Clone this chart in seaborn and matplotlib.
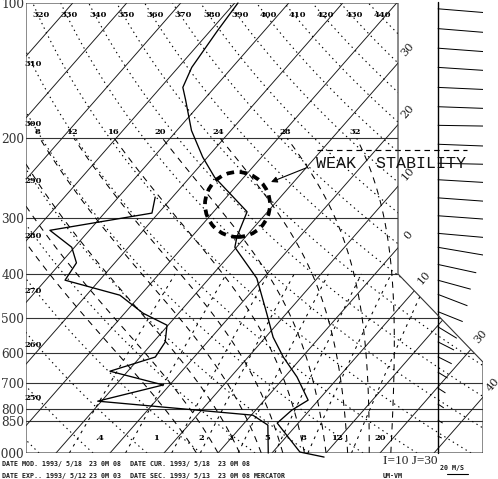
import numpy as np
import pandas as pd
import matplotlib
matplotlib.use("Agg")
import matplotlib.pyplot as plt
import matplotlib.transforms as mtransforms
from matplotlib.patches import Polygon, Ellipse
import seaborn as sns

# ---------------- sounding data ----------------
temp_p = [100, 115, 139, 154, 164, 192, 220, 244, 291, 331, 349, 409, 434, 489,
          553, 612, 678, 763, 803, 858, 995, 1021]
temp_t = [-69.4, -68.7, -67.5, -65.9, -63.4, -57.3, -50.9, -45.4, -33.8, -31.6,
          -30.3, -21.2, -18.7, -13.7, -8.6, -3.5, 2.3, 8.1, 6.7, 6.1, 15.0, 20.3]
dewp_p = [270, 293, 320, 349, 378, 413, 446, 489, 520, 567, 612, 658, 706, 767,
          803, 824, 867, 1000]
dewp_t = [-53.2, -51.2, -67.3, -60.5, -57.1, -56.4, -43.8, -36.6, -30.2, -27.8,
          -27.2, -33.3, -21.2, -30.7, -10.9, 0.3, 4.7, 9.3]

wind_p = [103, 114, 126, 139, 154, 170, 187, 206, 227, 247, 271, 297, 325, 349,
          381, 413, 444, 485, 524, 566, 611, 661, 717, 778, 845, 917]
wind_u = [44, 44, 44, 44, 44, 44, 44, 44, 44, 44, 44, 44, 44, 44,
          35, 30, 27, 22.7, 17.3, 14.8, 12.7, 9.0, 7.0, 5.5, 4.5, 3.6]
wind_v = [-3.6, -3.6, -3.3, -2.9, -2.0, -1.6, -0.7, -1.7, -1.0, -2.6, -3.2, -3.2,
          -3.9, -7.5, -7.6, -8.2, -10.4, -9.1, -10.5, -7.5, -6.4, -5.5, -4.5,
          -3.6, -2.7, -1.8]
tropopause_p = 212

# ---------------- diagram reference lines / labels ----------------
pressure_ticks = [100, 200, 300, 400, 500, 600, 700, 800, 850, 1000]
pressure_labels = ["100", "200", "300", "400", "500", "600", "700", "800", "850", "1000"]
isotherms = [-110, -100, -90, -80, -70, -60, -50, -40, -30, -20, -10, 0, 10, 20, 30, 40]
isotherm_labelled = [-30, -20, -10, 0, 10, 30, 40]
dry_theta = [240, 250, 260, 270, 280, 290, 300, 310, 320, 330, 340, 350, 360,
             370, 380, 390, 400, 410, 420, 430, 440]
dry_theta_top = [320, 330, 340, 350, 360, 370, 380, 390, 400, 410, 420, 430, 440]
dry_theta_left = [250, 260, 270, 280, 290, 300, 310]
moist_thetaw = [-4, 0, 4, 8, 12, 16, 20, 24, 28, 32]
moist_labelled = [8, 12, 16, 20, 24, 28, 32]
mixing_ratios = [0.4, 1, 2, 3, 5, 8, 12, 20]
mixing_labels = [".4", "1", "2", "3", "5", "8", "12", "20"]

# ---------------- diagram geometry ----------------
SKEW10 = 73.09           # deg C shift per decade of pressure
X_LEFT, X_RIGHT_UP, X_RIGHT_LOW, X_STAFF = -35.56, 33.33, 49.07, 40.69
P_CORNER = 628

sns.set_theme(style="white")
plt.rcParams["font.family"] = ["DejaVu Sans"]
plt.rcParams["lines.scale_dashes"] = False

W, H = 498, 479
fig = plt.figure(figsize=(W / 100, H / 100), dpi=100)
ax = fig.add_axes([26 / W, 26 / H, 457 / W, 450 / H])
ax.set_yscale("log")
ax.set_xlim(X_LEFT, X_RIGHT_LOW)
ax.set_ylim(1000, 100)
ax.set_autoscale_on(False)
for s in ax.spines.values():
    s.set_visible(False)
ax.set_xticks([])
ax.yaxis.set_major_locator(matplotlib.ticker.FixedLocator(pressure_ticks))
ax.yaxis.set_minor_locator(matplotlib.ticker.NullLocator())
ax.set_yticklabels(pressure_labels, fontfamily="DejaVu Serif", fontsize=8.7, color="#333333")
ax.tick_params(axis="y", length=0, pad=1.4)
ax.set_facecolor("white")

skew = mtransforms.Affine2D(np.array([[1.0, -SKEW10, 3 * SKEW10],
                                      [0.0, 1.0, 0.0],
                                      [0.0, 0.0, 1.0]]))
tskew = ax.transScale + skew + ax.transLimits + ax.transAxes

frame = Polygon([(X_LEFT, 100), (X_RIGHT_UP, 100), (X_RIGHT_UP, 400),
                 (X_RIGHT_LOW, P_CORNER), (X_RIGHT_LOW, 1000), (X_LEFT, 1000)],
                closed=True, fill=False, edgecolor="#333333", lw=0.8,
                transform=ax.transData, zorder=5)
ax.add_patch(frame)

LW = 0.68
def guide(x, y, ls="-", lw=LW, color="black", trans=None):
    ln, = ax.plot(x, y, ls=ls, lw=lw, color=color,
                  transform=trans if trans is not None else tskew, zorder=2)
    ln.set_clip_path(frame)
    return ln

# isobars
for p in pressure_ticks[1:-1]:
    guide([X_LEFT, X_RIGHT_LOW], [p, p], color="#333333", lw=0.8, trans=ax.transData)

# isotherms
pp2 = np.array([1000.0, 100.0])
for t in isotherms:
    guide([t, t], pp2, color="#1a1a1a")

# dry adiabats
pgrid = np.geomspace(1000, 100, 80)
for th in dry_theta:
    guide(th * (pgrid / 1000) ** 0.2857 - 273.15, pgrid, ls=(0, (1.0, 2.6)), lw=0.8)

# moist adiabats
Rd, cp, Lv, eps = 287.04, 1005.7, 2.501e6, 0.622
def esat(tc):
    return 6.112 * np.exp(17.67 * tc / (tc + 243.5))
def lapse(tk, p):
    e = esat(tk - 273.15)
    rs = eps * e / (p - e)
    return (Rd * tk + Lv * rs) / (cp + Lv * Lv * rs * eps / (Rd * tk * tk))
pm = np.geomspace(1000, 200, 120)
moist_curves = {}
for tw in moist_thetaw:
    tk = tw + 273.15
    vals = [tk]
    for p0, p1 in zip(pm[:-1], pm[1:]):
        d = np.log(p1 / p0)
        k1 = lapse(tk, p0)
        k2 = lapse(tk + k1 * d, p1)
        tk = tk + 0.5 * (k1 + k2) * d
        vals.append(tk)
    moist_curves[tw] = np.array(vals) - 273.15
    guide(moist_curves[tw], pm, ls=(0, (4.5, 4.0)), lw=0.75)

# mixing ratio lines
pw = np.geomspace(1000, 400, 30)
def dewpoint_from_w(w, p):
    e = w * p / (622.0 + w)
    l = np.log(e / 6.112)
    return 243.5 * l / (17.67 - l)
for w in mixing_ratios:
    guide(dewpoint_from_w(w, pw), pw, ls=(0, (2.0, 3.5)), lw=0.75)

# tropopause marker
ax.plot([18.3, 46.1], [tropopause_p, tropopause_p], color="black", lw=0.85,
        ls=(0, (4, 3)), zorder=3, clip_on=False)

# wind staff and wind lines
ax.plot([X_STAFF, X_STAFF], [1000, 99.5], color="black", lw=1.0,
        zorder=4, clip_on=False)
ax.quiver([X_STAFF] * len(wind_p), wind_p, wind_u, wind_v, angles="uv",
          scale_units="dots", scale=1 / 1.1, units="dots", width=1.0,
          headwidth=1, headlength=0, headaxislength=0, pivot="tail",
          color="black", zorder=4)

# ---------------- sounding profiles (seaborn) ----------------
prof_t = pd.DataFrame({"T": temp_t, "p": temp_p})
prof_d = pd.DataFrame({"T": dewp_t, "p": dewp_p})
sns.lineplot(data=prof_t, x="T", y="p", sort=False, estimator=None, ax=ax,
             color="black", lw=0.95, transform=tskew, zorder=6, clip_on=False)
sns.lineplot(data=prof_d, x="T", y="p", sort=False, estimator=None, ax=ax,
             color="black", lw=0.95, transform=tskew, zorder=6, clip_on=False)
ax.set_xlabel("")
ax.set_ylabel("")
ax.set_xlim(X_LEFT, X_RIGHT_LOW)
ax.set_ylim(1000, 100)

# ---------------- labels on reference lines ----------------
small = dict(fontfamily="DejaVu Serif", fontweight="bold", fontsize=6, color="black")
ptop = 106.3
for th in dry_theta_top:
    t = th * (ptop / 1000) ** 0.2857 - 273.15
    ax.annotate(str(th), xy=(t, ptop), xycoords=tskew, xytext=(3, 0),
                textcoords="offset pixels", ha="center", va="center", **small)
lp = np.log10(pgrid)
for th in dry_theta_left:
    xs = th * (pgrid / 1000) ** 0.2857 - 273.15 + SKEW10 * (3 - lp)
    pc = 10 ** np.interp(X_LEFT, xs[::-1], lp[::-1])
    ax.annotate(str(th), xy=(X_LEFT, pc), xycoords="data", xytext=(-2, -12),
                textcoords="offset pixels", ha="left", va="center", **small)
for tw in moist_labelled:
    t200 = np.interp(np.log(200), np.log(pm[::-1]), moist_curves[tw][::-1])
    ax.annotate(str(tw), xy=(t200, 200), xycoords=tskew, xytext=(-2, 6),
                textcoords="offset pixels", ha="center", va="center", **small)
for w, lab in zip(mixing_ratios, mixing_labels):
    ax.annotate(lab, xy=(dewpoint_from_w(w, 926.0), 926.0), xycoords=tskew,
                xytext=(22, 0), textcoords="offset pixels", ha="center",
                va="center", **small)

# isotherm labels where each isotherm leaves the frame
fpath = frame.get_path()
ftrans = frame.get_transform()
pfine = np.geomspace(1000, 100, 600)
for t in isotherm_labelled:
    pts = tskew.transform(np.column_stack([np.full_like(pfine, t), pfine]))
    inside = ftrans.transform_path(fpath).contains_points(pts, radius=-0.5)
    idx = np.where(inside)[0]
    if len(idx) == 0:
        continue
    xe, ye = pts[idx[-1]]
    ax.annotate(str(abs(t)), xy=(xe, ye), xycoords="figure pixels",
                xytext=(10, 13), textcoords="offset pixels", ha="center",
                va="center", rotation=49, fontfamily="DejaVu Serif",
                fontsize=8, color="#222222")

# ---------------- annotation: weak stability ----------------
def fx(px):
    return px / W
def fy(py):
    return 1 - py / H
circ = Ellipse((fx(237.5), fy(204.5)), 65 / W, 65 / H, transform=fig.transFigure,
               fill=False, lw=2.7, ls=(0, (5.5, 4.0)), edgecolor="black", zorder=7)
fig.patches.append(circ)
fig.text(fx(316), fy(163), "WEAK  STABILITY", fontfamily="Liberation Mono",
         fontsize=12.0, ha="left", va="center", color="#111111")
ax.annotate("", xy=(fx(271), fy(182)), xycoords="figure fraction",
            xytext=(fx(306), fy(168)), textcoords="figure fraction",
            arrowprops=dict(arrowstyle="-|>", lw=0.8, color="black",
                            mutation_scale=9, shrinkA=0, shrinkB=0))

# ---------------- footer texts ----------------
tiny = dict(fontfamily="DejaVu Sans Mono", fontweight="bold", fontsize=4.8,
            color="#1a1a1a", ha="left", va="center")
fig.text(fx(2), fy(464), "DATE MOD. 1993/ 5/18", **tiny)
fig.text(fx(89), fy(464), "23 0M 08", **tiny)
fig.text(fx(130), fy(464), "DATE CUR. 1993/ 5/18", **tiny)
fig.text(fx(218), fy(464), "23 0M 08", **tiny)
fig.text(fx(2), fy(476), "DATE EXP.. 1993/ 5/12", **tiny)
fig.text(fx(89), fy(476), "23 0M 03", **tiny)
fig.text(fx(130), fy(476), "DATE SEC. 1993/ 5/13", **tiny)
fig.text(fx(218), fy(476), "23 0M 08", **tiny)
fig.text(fx(254), fy(476), "MERCATOR", **tiny)
fig.text(fx(383), fy(476), "UM-VM", **tiny)
fig.text(fx(440), fy(468), "20 M/S", **tiny)
fig.add_artist(matplotlib.lines.Line2D([fx(447), fx(468)], [fy(474), fy(474)],
                                       transform=fig.transFigure, color="black",
                                       lw=0.8))
fig.text(fx(383), fy(461), "I=10 J=30", fontfamily="Liberation Serif", fontsize=9.5,
         ha="left", va="center", color="#222222")

fig.savefig("out.png", dpi=100, facecolor="white")
